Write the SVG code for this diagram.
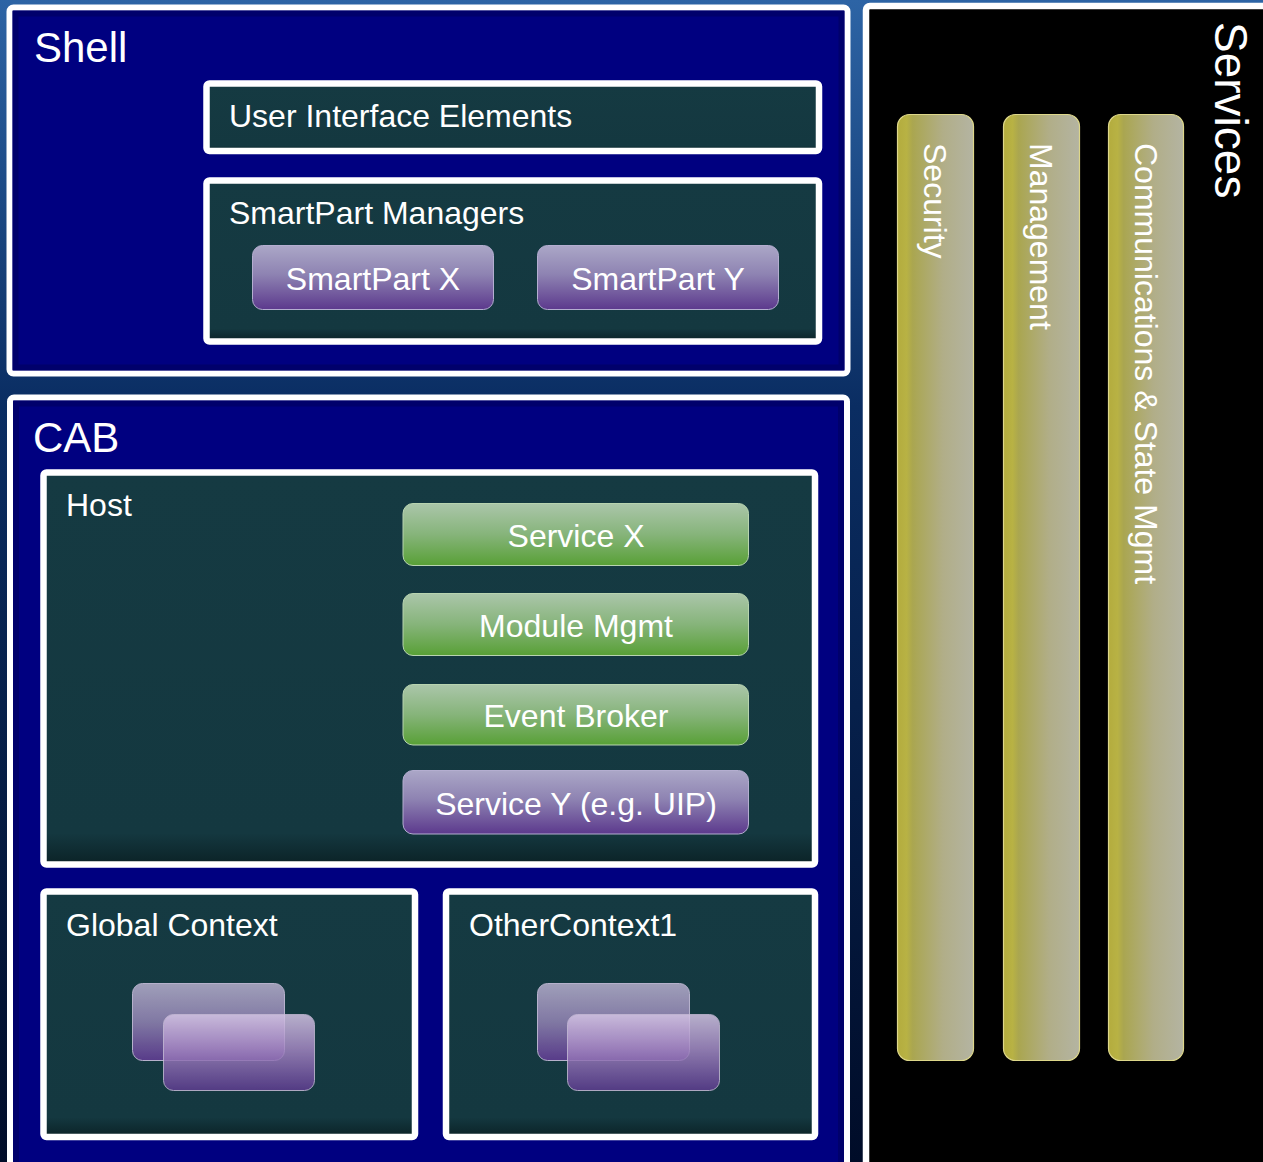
<svg xmlns="http://www.w3.org/2000/svg" width="1263" height="1162" viewBox="0 0 1263 1162">
<defs>
<linearGradient id="bg" x1="0" y1="0" x2="0" y2="1">
<stop offset="0" stop-color="#2d64a5"/>
<stop offset="0.35" stop-color="#0a2d62"/>
<stop offset="1" stop-color="#000c28"/>
</linearGradient>
<linearGradient id="purple" x1="0" y1="0" x2="0" y2="1">
<stop offset="0" stop-color="#aba7c7"/>
<stop offset="0.45" stop-color="#8e83b2"/>
<stop offset="1" stop-color="#5c398d"/>
</linearGradient>
<linearGradient id="green" x1="0" y1="0" x2="0" y2="1">
<stop offset="0" stop-color="#abc6aa"/>
<stop offset="0.5" stop-color="#86b47a"/>
<stop offset="1" stop-color="#58a036"/>
</linearGradient>
<linearGradient id="pillar" x1="0" y1="0" x2="1" y2="0">
<stop offset="0" stop-color="#b3ac3e"/>
<stop offset="0.12" stop-color="#b8b244"/>
<stop offset="0.2" stop-color="#aaa650"/>
<stop offset="0.6" stop-color="#b1ae88"/>
<stop offset="1" stop-color="#b4b4a2"/>
</linearGradient>
<linearGradient id="glassBack" x1="0" y1="0" x2="0" y2="1">
<stop offset="0" stop-color="#aca8c4"/>
<stop offset="0.5" stop-color="#8a7eac"/>
<stop offset="1" stop-color="#5e3c90"/>
</linearGradient>
<linearGradient id="glassFront" x1="0" y1="0" x2="0" y2="1">
<stop offset="0" stop-color="#d4c4e4"/>
<stop offset="0.45" stop-color="#a487c2"/>
<stop offset="1" stop-color="#5e3c90"/>
</linearGradient>
<linearGradient id="tealShade" x1="0" y1="0" x2="0" y2="1">
<stop offset="0" stop-color="#153a42"/>
<stop offset="0.92" stop-color="#143840"/>
<stop offset="1" stop-color="#0b2226"/>
</linearGradient>
</defs>
<style>
.t{font-family:"Liberation Sans",Arial,sans-serif;fill:#ffffff}
.big{font-size:42px}
.mid{font-size:32px}
.panel{fill:#000080;stroke:#ffffff;stroke-width:6}
.bevel{fill:none;stroke:#000062;stroke-width:6;opacity:0.7}
.box{fill:url(#tealShade);stroke:#ffffff;stroke-width:6.5}
.boxEdge{fill:none;stroke:#0e2a30;stroke-width:4}
.btnP{fill:url(#purple);stroke:#b4aed0;stroke-width:1}
.btnG{fill:url(#green);stroke:#b8d4b0;stroke-width:1}
.pill{fill:url(#pillar);stroke:#ddd78a;stroke-width:1.2}
.gb{fill:url(#glassBack);stroke:#c4bcd8;stroke-width:1;opacity:0.92}
.gf{fill:url(#glassFront);stroke:#c8bcd8;stroke-width:1;opacity:0.85}
</style>
<rect x="0" y="0" width="1263" height="1162" fill="url(#bg)"/>

<g id="services">
<rect x="866" y="6" width="420" height="1180" rx="4" fill="#000000" stroke="#ffffff" stroke-width="6.5"/>
<text class="t" font-size="46" transform="translate(1215,22) rotate(90)">Services</text>
</g>
<g id="security">
<rect class="pill" x="897.5" y="114.5" width="76" height="946" rx="12"/>
<text class="t mid" transform="translate(924,143) rotate(90)">Security</text>
</g>
<g id="management">
<rect class="pill" x="1003.5" y="114.5" width="76" height="946" rx="12"/>
<text class="t mid" transform="translate(1030,143) rotate(90)">Management</text>
</g>
<g id="communications">
<rect class="pill" x="1108.5" y="114.5" width="75" height="946" rx="12"/>
<text class="t mid" transform="translate(1135,143) rotate(90)">Communications &amp; State Mgmt</text>
</g>

<g id="shell">
<rect class="panel" x="9.5" y="7.5" width="838" height="366" rx="4"/>
<rect class="bevel" x="15.5" y="13.5" width="826" height="354"/>
<text class="t big" x="34" y="62">Shell</text>
</g>
<g id="ui-elements">
<rect class="box" x="206.5" y="83.5" width="612.5" height="67.5" rx="3"/>
<text class="t mid" x="229" y="127">User Interface Elements</text>
</g>
<g id="smartpart-managers">
<rect class="box" x="206.5" y="180.5" width="612.5" height="161" rx="3"/>
<text class="t mid" x="229" y="224">SmartPart Managers</text>
</g>
<g id="smartpart-x">
<rect class="btnP" x="252.5" y="245.5" width="241" height="64" rx="10"/>
<text class="t mid" x="373" y="290" text-anchor="middle">SmartPart X</text>
</g>
<g id="smartpart-y">
<rect class="btnP" x="537.5" y="245.5" width="241" height="64" rx="10"/>
<text class="t mid" x="658" y="290" text-anchor="middle">SmartPart Y</text>
</g>

<g id="cab">
<rect class="panel" x="10" y="397.5" width="837" height="800" rx="4"/>
<rect class="bevel" x="16" y="403.5" width="825" height="800"/>
<text class="t big" x="33" y="452">CAB</text>
</g>
<g id="host">
<rect class="box" x="43.5" y="472.5" width="771.5" height="392" rx="3"/>
<text class="t mid" x="66" y="516">Host</text>
</g>
<g id="service-x">
<rect class="btnG" x="403" y="503.5" width="345.5" height="62" rx="10"/>
<text class="t mid" x="576" y="547" text-anchor="middle">Service X</text>
</g>
<g id="module-mgmt">
<rect class="btnG" x="403" y="593.5" width="345.5" height="62" rx="10"/>
<text class="t mid" x="576" y="637" text-anchor="middle">Module Mgmt</text>
</g>
<g id="event-broker">
<rect class="btnG" x="403" y="684.5" width="345.5" height="60.5" rx="10"/>
<text class="t mid" x="576" y="727" text-anchor="middle">Event Broker</text>
</g>
<g id="service-y">
<rect class="btnP" x="403" y="770.5" width="345.5" height="63.5" rx="10"/>
<text class="t mid" x="576" y="815" text-anchor="middle">Service Y (e.g. UIP)</text>
</g>
<g id="global-context">
<rect class="box" x="43.5" y="891.5" width="371.5" height="245.5" rx="3"/>
<text class="t mid" x="66" y="936">Global Context</text>
<rect class="gb" x="132.5" y="983.5" width="152" height="77" rx="10"/>
<rect class="gf" x="163.5" y="1014.5" width="151" height="76" rx="10"/>
</g>
<g id="other-context">
<rect class="box" x="446" y="891.5" width="369" height="245.5" rx="3"/>
<text class="t mid" x="469" y="936">OtherContext1</text>
<rect class="gb" x="537.5" y="983.5" width="152" height="77" rx="10"/>
<rect class="gf" x="567.5" y="1014.5" width="152" height="76" rx="10"/>
</g>
<g id="connectors"/>
</svg>
